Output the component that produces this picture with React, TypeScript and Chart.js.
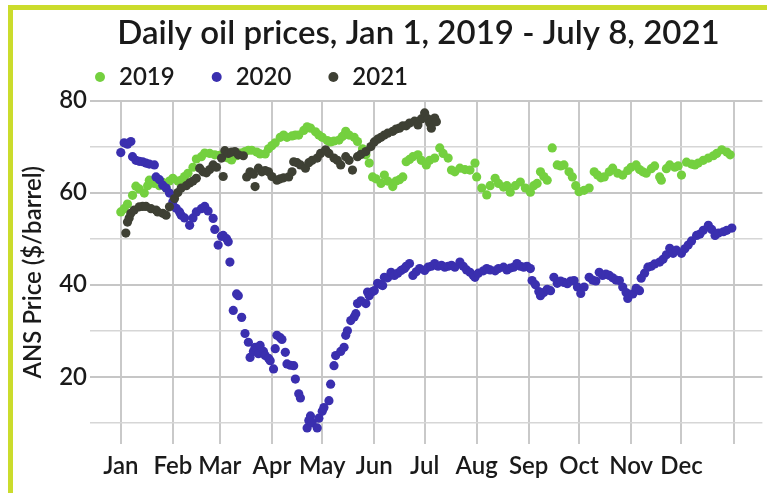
import React, { useEffect, useRef } from 'react';
import { Chart, registerables } from 'chart.js';

Chart.register(...registerables);

const FONT = "Lato, 'Open Sans', sans-serif";
const TEXT_COLOR = '#1a1a1a';
const WEIGHT = '600';

const titleText = 'Daily oil prices, Jan 1, 2019 - July 8, 2021';
const yAxisTitle = 'ANS Price ($/barrel)';
const seriesNames = ['2019', '2020', '2021'];
const seriesColors = ['#74d03f', '#3a2faf', '#3e4034'];
const monthStarts = [0, 31, 59, 90, 120, 151, 181, 212, 243, 273, 304, 334, 365];
const monthLabels = ['Jan', 'Feb', 'Mar', 'Apr', 'May', 'Jun', 'Jul', 'Aug', 'Sep', 'Oct', 'Nov', 'Dec', ''];
const yGridValues = [10, 20, 30, 40, 50, 60, 70, 80];
const yLabelValues = [20, 40, 60, 80];

// [day of year, $/barrel]
const pts2019: [number, number][] = [
  [0, 55.8], [2, 56.5], [4, 57.5], [7, 59.4], [9, 61.4], [11, 60.8], [14, 59.9], [16, 61.5], [17, 62.7],
  [20, 62.0], [23, 61.5], [25, 62.2], [27, 61.0], [29, 62.5], [31, 63.1], [34, 62.5], [36, 62.7], [38, 63.5],
  [40, 64.2], [43, 65.5], [45, 67.3], [48, 67.8], [50, 68.6], [53, 68.5], [56, 68.2], [59, 68.1], [62, 67.8],
  [64, 67.5], [66, 67.1], [69, 68.0], [71, 68.6], [74, 68.9], [76, 69.2], [78, 69.2], [81, 68.8], [83, 68.4],
  [86, 68.4], [88, 69.5], [90, 70.2], [92, 70.8], [95, 72.0], [97, 72.5], [99, 72.0], [102, 72.3], [104, 72.5],
  [106, 72.5], [109, 73.5], [111, 74.3], [113, 74.0], [116, 73.2], [118, 72.5], [120, 72.0], [123, 71.3],
  [125, 71.0], [127, 71.2], [130, 71.4], [132, 72.2], [134, 73.3], [136, 72.5], [139, 72.0], [141, 71.1],
  [144, 69.5], [146, 68.2], [148, 66.4], [150, 63.4], [152, 63.0], [155, 62.0], [157, 63.8], [159, 62.5],
  [162, 61.3], [164, 62.5], [166, 62.8], [168, 63.4], [170, 66.7], [172, 67.2], [174, 67.8], [177, 68.2],
  [179, 67.0], [182, 66.0], [184, 67.0], [187, 67.5], [190, 69.7], [192, 68.5], [195, 67.5], [197, 64.9],
  [199, 64.5], [202, 65.3], [205, 65.0], [208, 64.9], [211, 66.4], [212, 63.4], [215, 61.0], [218, 59.5],
  [220, 61.5], [223, 63.1], [225, 62.0], [228, 61.2], [230, 61.5], [232, 60.1], [235, 61.5], [238, 62.3],
  [241, 61.0], [244, 60.1], [246, 61.5], [248, 62.0], [250, 64.5], [252, 63.5], [254, 62.7], [257, 69.7],
  [260, 66.0], [262, 65.8], [264, 66.0], [267, 64.5], [269, 63.4], [271, 61.5], [273, 60.2], [276, 60.5],
  [279, 61.0], [282, 64.5], [284, 63.8], [286, 63.2], [288, 63.4], [291, 64.5], [293, 65.3], [296, 64.2],
  [299, 63.8], [302, 64.8], [304, 65.5], [307, 66.0], [309, 65.0], [311, 64.5], [313, 64.2], [316, 65.2],
  [318, 65.8], [321, 63.4], [322, 62.7], [325, 65.2], [327, 66.0], [330, 65.5], [332, 65.8], [334, 63.8],
  [337, 66.6], [340, 66.2], [342, 66.0], [344, 66.4], [347, 67.0], [350, 67.5], [353, 68.0], [355, 68.5],
  [358, 69.3], [361, 68.8], [363, 68.2],
];

const pts2020: [number, number][] = [
  [0, 68.7], [2, 70.8], [4, 70.5], [6, 71.1], [7, 67.8], [9, 67.0], [11, 66.8], [13, 66.7], [15, 66.4],
  [17, 66.2], [20, 66.0], [21, 63.4], [23, 62.8], [25, 61.6], [27, 61.0], [29, 59.9], [31, 58.0], [33, 56.6],
  [35, 55.8], [36, 55.1], [38, 54.5], [41, 52.9], [43, 54.5], [45, 55.8], [48, 56.5], [50, 57.0], [52, 56.0],
  [55, 54.4], [56, 52.0], [58, 48.6], [60, 50.5], [61, 50.7], [63, 50.0], [64, 49.3], [65, 44.9], [67, 34.4],
  [69, 38.0], [70, 37.6], [72, 32.9], [74, 29.4], [76, 27.5], [77, 24.2], [79, 25.5], [80, 26.4], [82, 25.0],
  [83, 26.8], [85, 25.5], [86, 24.6], [88, 24.0], [89, 23.5], [91, 21.7], [92, 26.1], [93, 29.0], [95, 28.5],
  [96, 28.1], [98, 25.3], [99, 22.8], [101, 22.5], [103, 22.4], [104, 19.5], [106, 16.3], [107, 15.4],
  [111, 8.9], [112, 10.5], [113, 11.5], [114, 10.0], [117, 8.9], [118, 11.0], [120, 12.5], [121, 13.3],
  [124, 14.8], [125, 18.4], [127, 22.4], [128, 24.6], [131, 25.5], [133, 26.4], [134, 29.0], [135, 30.0],
  [137, 32.2], [139, 33.0], [140, 33.7], [141, 35.9], [143, 36.5], [146, 35.9], [147, 38.4], [148, 37.6],
  [150, 38.5], [151, 38.7], [153, 40.3], [155, 40.0], [156, 39.8], [157, 41.6], [159, 41.5], [161, 42.7],
  [163, 42.0], [165, 42.5], [167, 43.1], [169, 43.5], [170, 44.0], [172, 44.6], [174, 42.0], [176, 42.8],
  [178, 43.5], [181, 43.1], [183, 43.8], [185, 44.0], [187, 44.6], [189, 44.0], [191, 44.2], [193, 43.8],
  [195, 44.0], [197, 44.2], [199, 43.8], [202, 44.9], [204, 44.0], [206, 43.2], [208, 42.7], [210, 42.0],
  [211, 41.6], [213, 42.5], [216, 43.0], [218, 43.5], [220, 43.2], [223, 43.0], [225, 43.5], [228, 43.8],
  [230, 43.2], [232, 43.6], [234, 43.8], [236, 44.6], [238, 44.0], [240, 43.8], [242, 44.0], [244, 43.5],
  [245, 40.9], [247, 40.0], [249, 38.5], [250, 37.6], [252, 38.3], [254, 39.0], [256, 38.7], [258, 41.6],
  [260, 40.3], [262, 40.8], [264, 40.5], [266, 40.2], [268, 40.8], [270, 40.9], [272, 39.5], [274, 38.1],
  [276, 39.5], [279, 41.6], [281, 41.0], [283, 40.8], [285, 42.7], [287, 42.0], [289, 42.3], [291, 42.0],
  [293, 41.5], [295, 41.0], [297, 40.9], [299, 39.5], [301, 38.3], [302, 37.0], [305, 38.0], [307, 39.2],
  [309, 38.7], [310, 41.4], [312, 42.5], [314, 43.8], [316, 44.0], [318, 44.5], [321, 44.9], [323, 45.5],
  [325, 46.5], [327, 47.9], [329, 46.8], [331, 47.5], [334, 46.8], [336, 47.8], [338, 48.6], [340, 49.5],
  [343, 50.7], [345, 51.0], [347, 51.8], [350, 52.9], [352, 52.0], [354, 50.7], [356, 51.2], [359, 51.5],
  [361, 51.8], [364, 52.3],
];

const pts2021: [number, number][] = [
  [3, 51.2], [4, 53.6], [5, 54.5], [6, 55.5], [8, 56.2], [11, 56.9], [13, 57.0], [15, 57.0], [18, 56.5],
  [21, 56.2], [22, 55.8], [25, 55.5], [27, 55.1], [29, 56.9], [32, 58.7], [34, 60.0], [36, 61.0], [39, 61.5],
  [41, 62.1], [43, 62.5], [45, 63.1], [47, 65.3], [49, 64.5], [51, 64.3], [53, 65.0], [55, 66.0], [57, 65.5],
  [60, 67.5], [61, 63.5], [62, 69.1], [64, 68.5], [66, 68.8], [68, 68.9], [70, 68.2], [73, 68.0], [75, 63.4],
  [77, 64.5], [79, 64.0], [80, 61.3], [82, 65.3], [84, 64.5], [86, 64.8], [88, 64.5], [90, 63.5], [93, 62.7],
  [95, 63.0], [97, 63.2], [100, 63.4], [102, 64.5], [103, 66.7], [105, 66.5], [107, 66.0], [110, 65.3],
  [112, 66.5], [114, 67.0], [117, 67.5], [119, 68.5], [122, 69.3], [124, 68.5], [127, 67.5], [129, 67.0],
  [131, 66.0], [134, 67.8], [136, 67.0], [138, 64.9], [141, 67.8], [143, 68.3], [146, 68.9], [149, 70.0],
  [151, 71.0], [153, 71.6], [155, 72.0], [157, 72.5], [159, 72.9], [162, 73.3], [164, 73.8], [166, 74.0],
  [168, 74.5], [170, 74.5], [172, 75.1], [175, 75.5], [177, 74.7], [179, 76.0], [181, 77.3], [183, 76.0],
  [184, 75.1], [185, 74.0], [187, 76.2], [188, 75.4],
];

const seriesPoints = [pts2019, pts2020, pts2021];

const headerPlugin = {
  id: 'header',
  afterDraw(chart: any) {
    const ctx = chart.ctx as CanvasRenderingContext2D;
    ctx.save();
    ctx.fillStyle = TEXT_COLOR;
    ctx.font = `${WEIGHT} 33px ${FONT}`;
    ctx.textAlign = 'center';
    ctx.textBaseline = 'alphabetic';
    ctx.fillText(titleText, 418.5, 44);

    ctx.font = `${WEIGHT} 24px ${FONT}`;
    ctx.textAlign = 'left';
    let x = 100;
    chart.data.datasets.forEach((ds: any) => {
      ctx.fillStyle = ds.backgroundColor;
      ctx.beginPath();
      ctx.arc(x, 77, 5, 0, Math.PI * 2);
      ctx.fill();
      ctx.fillStyle = TEXT_COLOR;
      ctx.fillText(ds.label, x + 19, 85);
      x += 19 + ctx.measureText(ds.label).width + 42;
    });
    ctx.restore();
  },
};

export default function App() {
  const canvasRef = useRef<HTMLCanvasElement | null>(null);

  useEffect(() => {
    if (!canvasRef.current) return;
    const chart = new Chart(canvasRef.current, {
      type: 'scatter',
      data: {
        datasets: seriesNames.map((name, i) => ({
          label: name,
          data: seriesPoints[i].map(([d, v]) => ({ x: d, y: v })),
          backgroundColor: seriesColors[i],
          borderColor: seriesColors[i],
          borderWidth: 0,
          pointRadius: 4.6,
          pointHoverRadius: 4.6,
          order: seriesNames.length - i,
        })),
      },
      options: {
        animation: false,
        responsive: false,
        devicePixelRatio: 1,
        layout: { padding: { top: 100.5, right: 0, bottom: 0, left: 0 } },
        plugins: {
          legend: { display: false },
          title: { display: false },
          tooltip: { enabled: false },
        },
        scales: {
          x: {
            type: 'linear',
            min: -18.34,
            max: 382.2,
            border: { display: false },
            grid: {
              color: '#c9c9c9',
              lineWidth: 2,
              drawTicks: false,
            },
            afterBuildTicks: (scale: any) => {
              scale.ticks = monthStarts.map((v) => ({ value: v }));
            },
            afterFit: (scale: any) => {
              scale.height = 49;
            },
            ticks: {
              autoSkip: false,
              maxRotation: 0,
              padding: 8,
              color: TEXT_COLOR,
              font: { family: FONT, size: 24, weight: WEIGHT },
              callback: (v: any) => {
                const idx = monthStarts.indexOf(Number(v));
                return idx >= 0 ? monthLabels[idx] : '';
              },
            },
          },
          y: {
            type: 'linear',
            min: 5.4,
            max: 80,
            border: { display: false },
            grid: {
              drawTicks: false,
              color: (c: any) => (yLabelValues.includes(c.tick?.value) ? '#c6c6c6' : '#d6d6d6'),
              lineWidth: (c: any) => (yLabelValues.includes(c.tick?.value) ? 2 : 1.5),
            },
            afterBuildTicks: (scale: any) => {
              scale.ticks = yGridValues.map((v) => ({ value: v }));
            },
            afterFit: (scale: any) => {
              scale.width = 90;
            },
            ticks: {
              padding: 3,
              color: TEXT_COLOR,
              font: { family: FONT, size: 24, weight: WEIGHT },
              callback: (v: any) => (yLabelValues.includes(Number(v)) ? String(v) : ''),
            },
            title: {
              display: true,
              text: yAxisTitle,
              color: TEXT_COLOR,
              font: { family: FONT, size: 24, weight: WEIGHT },
              padding: { top: 19, bottom: 0 },
            },
          },
        },
      },
      plugins: [headerPlugin],
    } as any);
    return () => chart.destroy();
  }, []);

  return (
    <div style={{ position: 'fixed', left: 0, top: 0, width: 767, height: 493, overflow: 'hidden', background: '#ffffff' }}>
      <div
        style={{
          position: 'absolute',
          left: 8,
          top: 5,
          width: 1200,
          height: 1200,
          borderLeft: '5px solid #cbdc2c',
          borderTop: '5px solid #cbdc2c',
        }}
      />
      <canvas
        ref={canvasRef}
        width={767}
        height={493}
        style={{ position: 'absolute', left: 0, top: 0, width: 767, height: 493 }}
      />
    </div>
  );
}
